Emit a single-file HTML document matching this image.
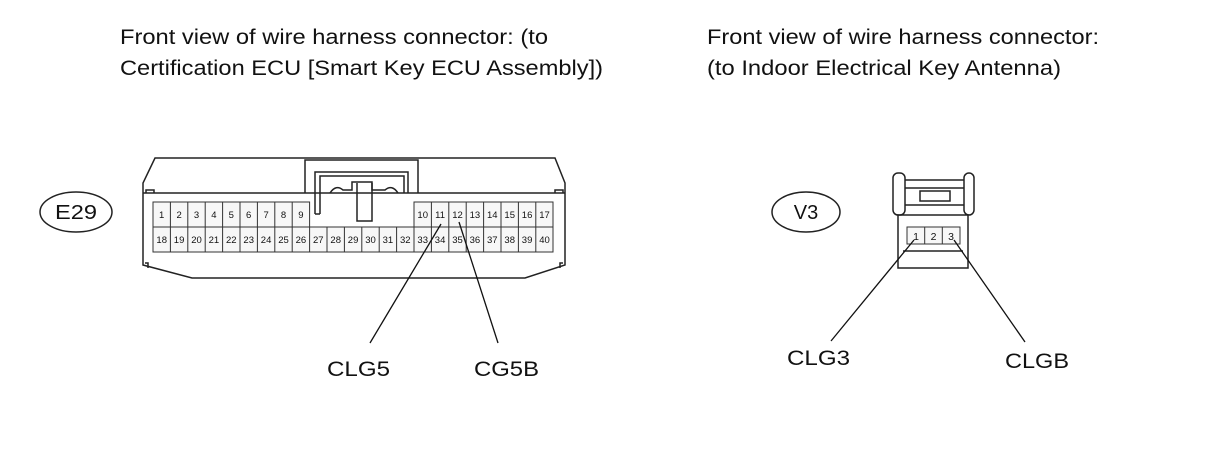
<!DOCTYPE html>
<html><head><meta charset="utf-8"><style>
html,body{margin:0;padding:0;background:#fff;}
svg{display:block;font-family:"Liberation Sans",sans-serif;}
</style></head><body>
<svg width="1210" height="474" viewBox="0 0 1210 474" xmlns="http://www.w3.org/2000/svg">
<g font-size="21" fill="#111" lengthAdjust="spacingAndGlyphs">
<text x="120" y="44" textLength="428" lengthAdjust="spacingAndGlyphs">Front view of wire harness connector: (to</text>
<text x="120" y="75" textLength="483" lengthAdjust="spacingAndGlyphs">Certification ECU [Smart Key ECU Assembly])</text>
<text x="707" y="44" textLength="392" lengthAdjust="spacingAndGlyphs">Front view of wire harness connector:</text>
<text x="707" y="75" textLength="354" lengthAdjust="spacingAndGlyphs">(to Indoor Electrical Key Antenna)</text>
</g>
<g fill="none" stroke="#222" stroke-width="1.5">
<ellipse cx="76" cy="212" rx="36" ry="20"/>
<ellipse cx="806" cy="212" rx="34" ry="20"/>
<path d="M155,158 L555,158 L565,183 L565,265 L525,278 L192,278 L143,265 L143,183 Z"/>
<path d="M143,193 L565,193"/>
<path d="M146,193 L146,190 L154,190 L154,193"/>
<path d="M555,193 L555,190 L563,190 L563,193"/>
<path d="M145,263 L148,263 L148,268 M563,263 L560,263 L560,268"/>
<path d="M305,193 L305,160 L418,160 L418,193"/>
<path d="M315,214 L315,172 L408,172 L408,193"/>
<path d="M320,214 L320,176 L404,176 L404,193"/>
<path d="M330,193 Q336,184 343,190 L352,190 L352,182 L372,182 L372,190 L385,190 Q392,184 398,193"/>
<path d="M357,183 L357,221 L372,221 L372,183"/>
<path d="M315,214 L320,214"/>
</g>
<g stroke="#333" stroke-width="1" fill="#f7f7f7">
<rect x="153" y="202" width="156.6" height="25" />
<rect x="414" y="202" width="139" height="25" />
<rect x="153" y="227" width="400" height="25" />
</g>
<g stroke="#333" stroke-width="1">
<path d="M170.4,202V227 M187.8,202V227 M205.2,202V227 M222.6,202V227 M240,202V227 M257.4,202V227 M274.8,202V227 M292.2,202V227"/>
<path d="M431.4,202V227 M448.8,202V227 M466.2,202V227 M483.6,202V227 M501,202V227 M518.4,202V227 M535.8,202V227"/>
<path d="M170.4,227V252 M187.8,227V252 M205.2,227V252 M222.6,227V252 M240,227V252 M257.4,227V252 M274.8,227V252 M292.2,227V252 M309.6,227V252 M327,227V252 M344.4,227V252 M361.8,227V252 M379.2,227V252 M396.6,227V252 M414,227V252 M431.4,227V252 M448.8,227V252 M466.2,227V252 M483.6,227V252 M501,227V252 M518.4,227V252 M535.8,227V252"/>
</g>
<g font-size="9.5" fill="#111" text-anchor="middle">
<text x="161.7" y="218">1</text><text x="179.1" y="218">2</text><text x="196.5" y="218">3</text><text x="213.9" y="218">4</text><text x="231.3" y="218">5</text><text x="248.7" y="218">6</text><text x="266.1" y="218">7</text><text x="283.5" y="218">8</text><text x="300.9" y="218">9</text>
<text x="422.7" y="218">10</text><text x="440.1" y="218">11</text><text x="457.5" y="218">12</text><text x="474.9" y="218">13</text><text x="492.3" y="218">14</text><text x="509.7" y="218">15</text><text x="527.1" y="218">16</text><text x="544.5" y="218">17</text>
<text x="161.7" y="243">18</text><text x="179.1" y="243">19</text><text x="196.5" y="243">20</text><text x="213.9" y="243">21</text><text x="231.3" y="243">22</text><text x="248.7" y="243">23</text><text x="266.1" y="243">24</text><text x="283.5" y="243">25</text><text x="300.9" y="243">26</text><text x="318.3" y="243">27</text><text x="335.7" y="243">28</text><text x="353.1" y="243">29</text><text x="370.5" y="243">30</text><text x="387.9" y="243">31</text><text x="405.3" y="243">32</text><text x="422.7" y="243">33</text><text x="440.1" y="243">34</text><text x="457.5" y="243">35</text><text x="474.9" y="243">36</text><text x="492.3" y="243">37</text><text x="509.7" y="243">38</text><text x="527.1" y="243">39</text><text x="544.5" y="243">40</text>
</g>
<g fill="none" stroke="#222" stroke-width="1.5">
<rect x="893" y="173" width="12" height="42" rx="5"/>
<rect x="964" y="173" width="10" height="42" rx="5"/>
<path d="M905,180 L964,180 M905,188 L964,188 M905,205 L964,205"/>
<rect x="920" y="191" width="30" height="10"/>
<path d="M898,215 L898,268 L968,268 L968,215 Z"/>
<path d="M903,251 L963,251"/>
</g>
<g stroke="#333" stroke-width="1" fill="#f7f7f7"><rect x="907" y="227" width="53" height="17"/></g>
<g stroke="#333" stroke-width="1"><path d="M924.7,227V244 M942.3,227V244"/></g>
<g font-size="10.5" fill="#111" text-anchor="middle"><text x="916" y="240">1</text><text x="933.5" y="240">2</text><text x="951" y="240">3</text></g>
<g stroke="#111" stroke-width="1.3">
<line x1="441" y1="224" x2="370" y2="343"/>
<line x1="459" y1="222" x2="498" y2="343"/>
<line x1="914" y1="240" x2="831" y2="341"/>
<line x1="954" y1="240" x2="1025" y2="342"/>
</g>
<g font-size="21" fill="#111">
<text x="76" y="219" text-anchor="middle" font-size="20" textLength="42" lengthAdjust="spacingAndGlyphs">E29</text>
<text x="806" y="219" text-anchor="middle" font-size="20">V3</text>
<text x="327" y="376" textLength="63" lengthAdjust="spacingAndGlyphs">CLG5</text>
<text x="474" y="376" textLength="65" lengthAdjust="spacingAndGlyphs">CG5B</text>
<text x="787" y="365" textLength="63" lengthAdjust="spacingAndGlyphs">CLG3</text>
<text x="1005" y="368" textLength="64" lengthAdjust="spacingAndGlyphs">CLGB</text>
</g>
</svg>
</body></html>
